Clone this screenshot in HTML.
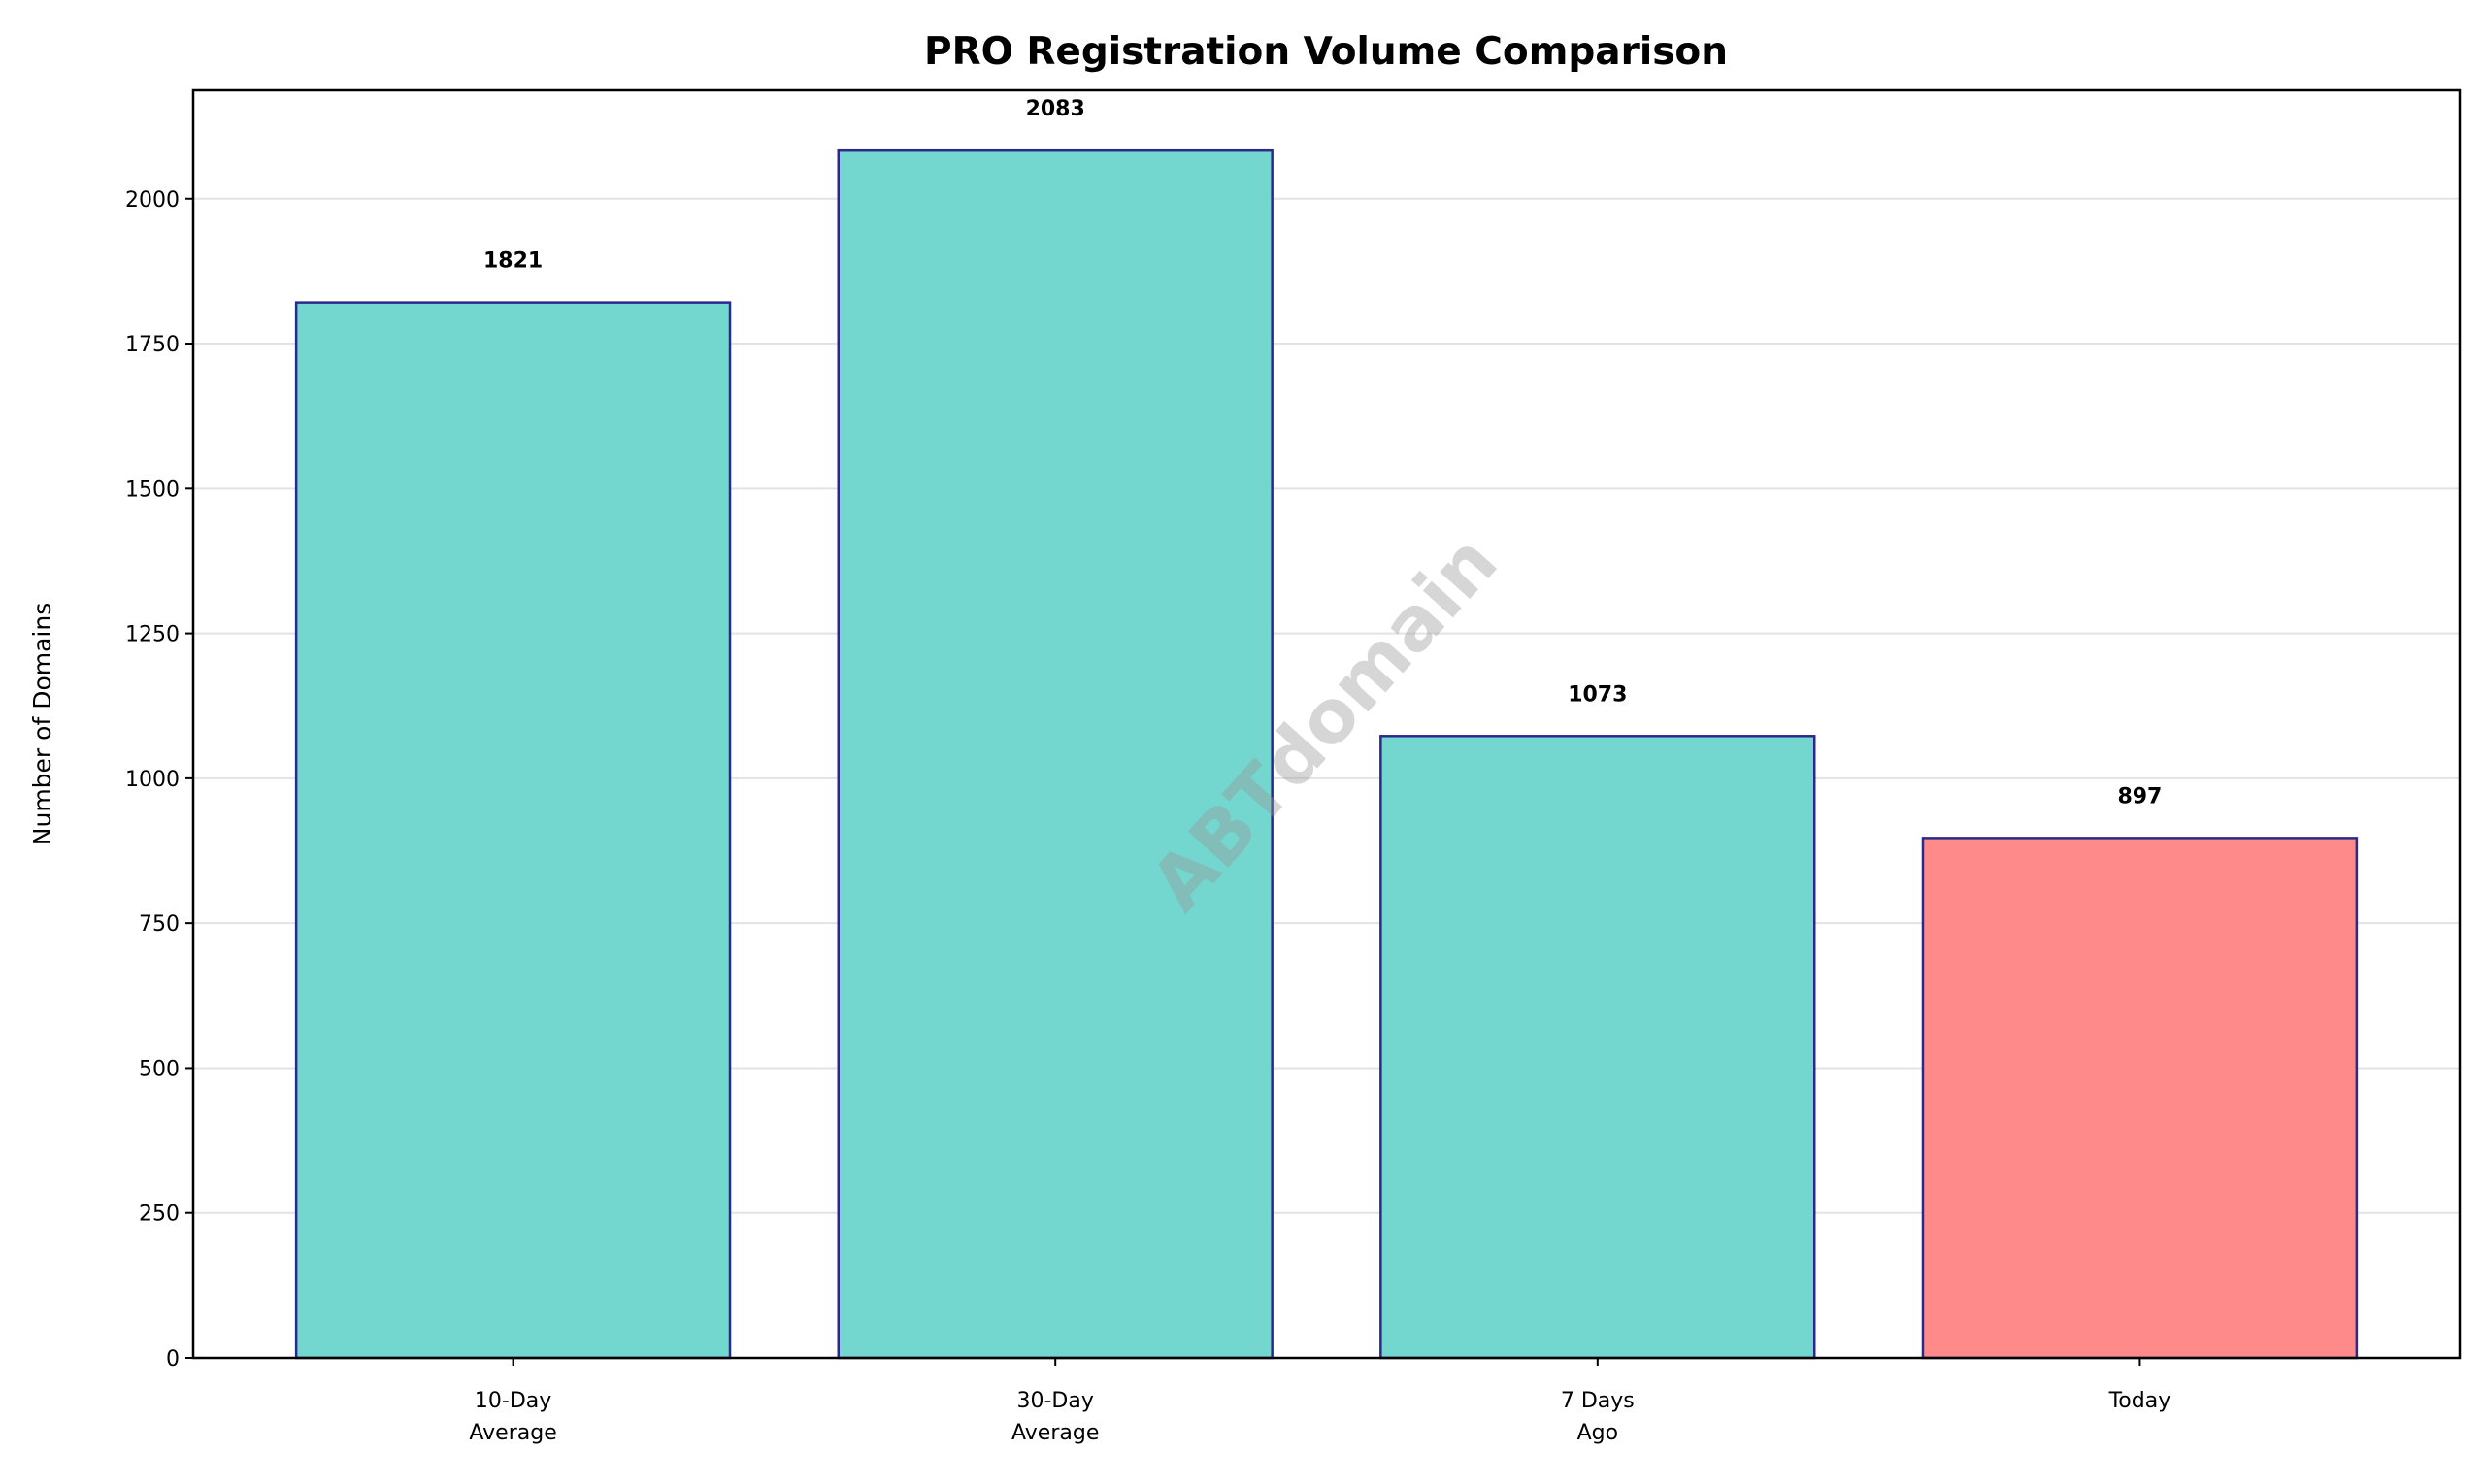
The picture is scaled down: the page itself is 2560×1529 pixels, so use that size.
<!DOCTYPE html>
<html><head><meta charset="utf-8"><style>
html,body{margin:0;padding:0;background:#fff;}
svg{display:block;font-family:"DejaVu Sans","Liberation Sans",sans-serif;}
</style></head><body>
<svg id="chart" width="2560" height="1529" viewBox="0 0 2560 1529" xmlns="http://www.w3.org/2000/svg">
<rect width="2560" height="1529" fill="#fff"/>
<text x="1366" y="66" text-anchor="middle" font-size="39" font-weight="bold">PRO Registration Volume Comparison</text>
<g id="grid"></g>
<g id="bars"></g>
<text x="1368" y="748" text-anchor="middle" dominant-baseline="middle" font-size="76" font-weight="bold" fill="#999" fill-opacity="0.4" transform="rotate(-48 1368 748)">ABTdomain</text>
<g id="axes"></g>
<text x="52" y="746" text-anchor="middle" font-size="25" transform="rotate(-90 52 746)">Number of Domains</text>
</svg>
<script>
const categories = [["10-Day","Average"],["30-Day","Average"],["7 Days","Ago"],["Today"]];
const values = [1821, 2083, 1073, 897];
const barColors = ["#73d6cf","#73d6cf","#73d6cf","#ff8a8a"];
const yTicks = [0,250,500,750,1000,1250,1500,1750,2000];

const L=199,R=2534,T=93,B=1399;
const yMax = Math.max(...values)*1.05;
const xMin=-0.59, xMax=categories.length-1+0.59;
const y = v => B - v/yMax*(B-T);
const x = i => L + (i-xMin)/(xMax-xMin)*(R-L);
const bw = 0.8*(x(1)-x(0));
const NS="http://www.w3.org/2000/svg";
function mk(tag, attrs, parent, txt){const e=document.createElementNS(NS,tag);for(const k in attrs)e.setAttribute(k,attrs[k]);if(txt!==undefined)e.textContent=txt;parent.appendChild(e);return e;}
const grid=document.getElementById('grid'), bars=document.getElementById('bars'), axes=document.getElementById('axes');
yTicks.forEach(t=>{
  const g=mk('line',{x1:L,x2:R,y1:y(t),y2:y(t),stroke:'#e3e3e3','stroke-width':2},grid);
  
  
  const tk=mk('line',{x1:L-8,x2:L,y1:y(t),y2:y(t),stroke:'#000','stroke-width':2},axes);
  
  
  const lb=mk('text',{x:L-14,y:y(t)+8,'text-anchor':'end','font-size':22},axes,String(t));
  
  
});
values.forEach((v,i)=>{
  const r=mk('rect',{x:x(i)-bw/2,y:y(v),width:bw,height:B-y(v),fill:barColors[i],stroke:'#2a2a8c','stroke-width':2.5},bars);
  
  
  const lb=mk('text',{x:x(i),y:y(v)-36,'text-anchor':'middle','font-size':22,'font-weight':'bold'},bars,String(v));
  
  
  const tk=mk('line',{x1:x(i),x2:x(i),y1:B,y2:B+8,stroke:'#000','stroke-width':2},axes);
  
  
  categories[i].forEach((s,j)=>{
    const t=mk('text',{x:x(i),y:1450+j*33,'text-anchor':'middle','font-size':22},axes,s);
    
    
  });
});
const frame=mk('rect',{x:L,y:T,width:R-L,height:B-T,fill:'none',stroke:'#000','stroke-width':2.5},axes);


</script>
</body></html>
